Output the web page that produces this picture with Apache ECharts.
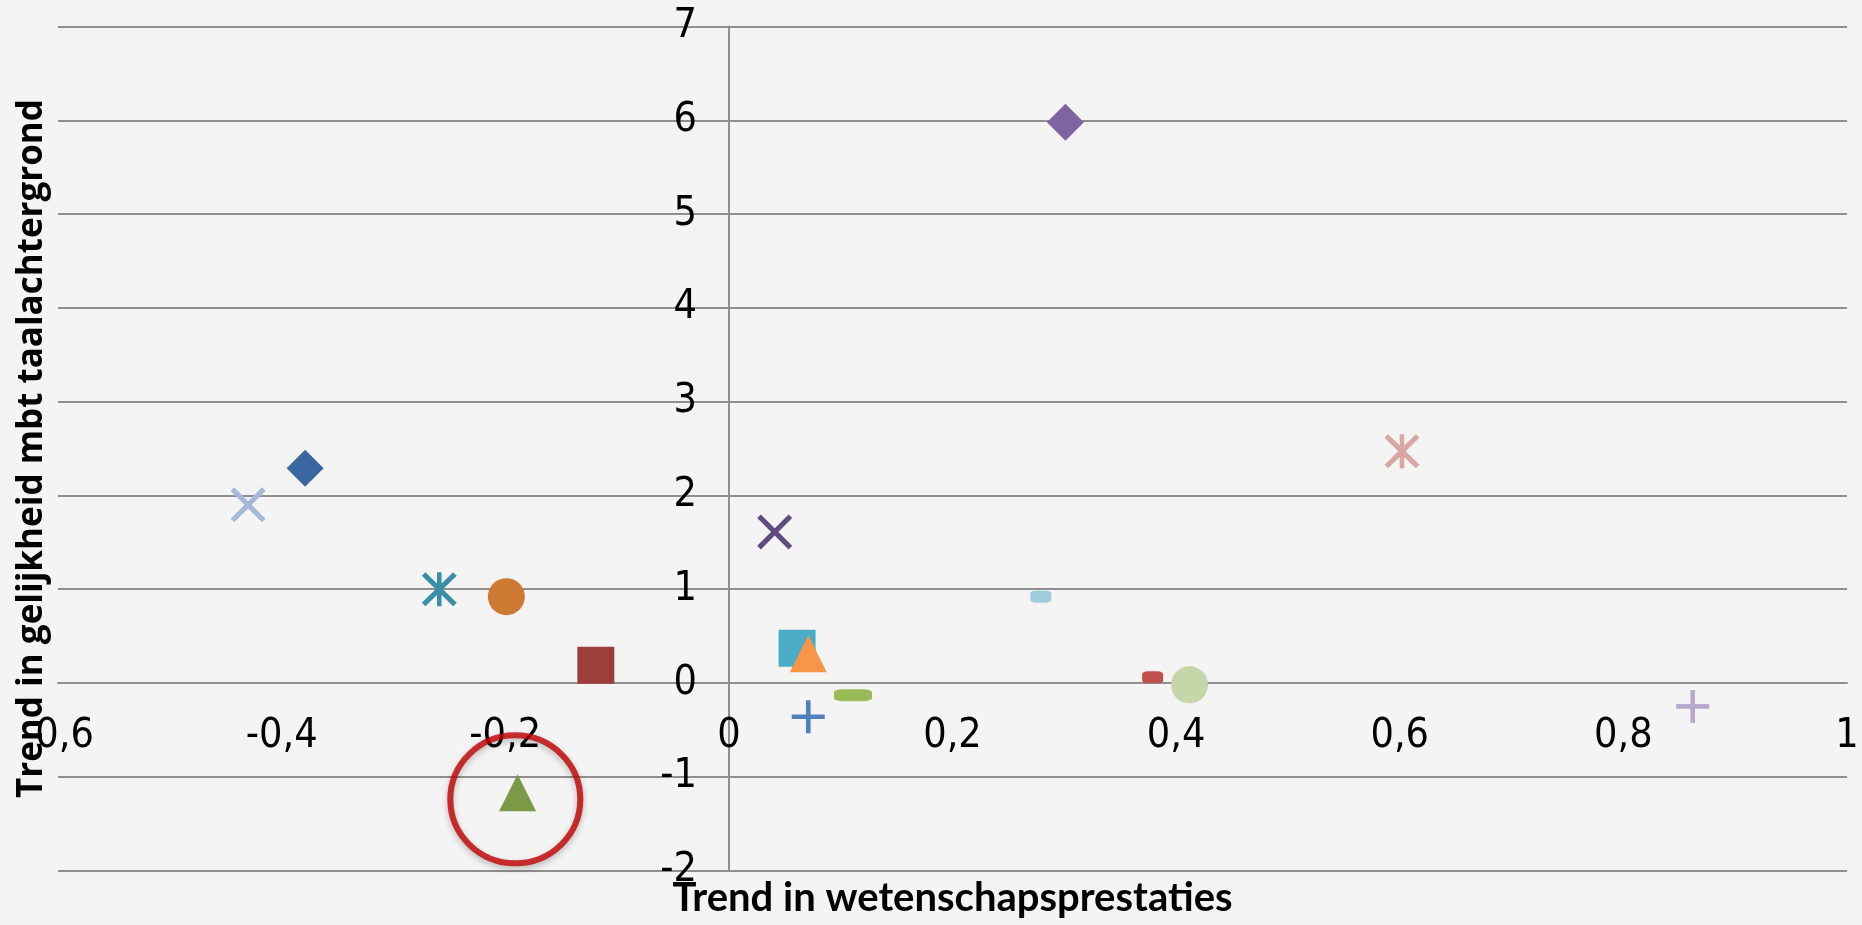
<!DOCTYPE html>
<html>
<head>
<meta charset="utf-8">
<title>Trend in gelijkheid</title>
<script src="https://cdn.jsdelivr.net/npm/echarts@6/dist/echarts.min.js"></script>
<style>
  html, body { margin: 0; padding: 0; background: #f4f4f4; }
  #chart { width: 1862px; height: 925px; }
</style>
</head>
<body>
<div id="chart"></div>
<script>
// trend in science performance (x) vs trend in equity by language background (y)
var trendScience = [-0.379, -0.430, -0.259, -0.199, -0.119, -0.189, 0.301, 0.041, 0.061, 0.071, 0.111, 0.071, 0.279, 0.379, 0.412, 0.602, 0.862];
var trendEquity  = [ 2.29,   1.90,   1.00,   0.92,   0.19,  -1.17,  5.98,  1.61,  0.37,  0.31, -0.13, -0.36,  0.92,  0.06, -0.02,  2.47, -0.25];

// the circled point
var circledX = [-0.191];
var circledY = [-1.241];

// axis ranges
var xRange = [-0.6, 1];
var yRange = [-2, 7];

var PATH_X = 'path://M10.4,0L100,89.6L89.6,100L0,10.4Z M89.6,0L100,10.4L10.4,100L0,89.6Z';
var PATH_STAR = 'path://M10.4,0L100,89.6L89.6,100L0,10.4Z M89.6,0L100,10.4L10.4,100L0,89.6Z M43.5,0L56.5,0L56.5,100L43.5,100Z';
var PATH_PLUS = 'path://M43,0L57,0L57,43L100,43L100,57L57,57L57,100L43,100L43,57L0,57L0,43L43,43Z';

// marker style per country
var markers = [
  { symbol: 'diamond',   color: '#3b67a0', size: [37, 37] },
  { symbol: PATH_X,      color: '#a7b9d8', size: [35, 35] },
  { symbol: PATH_STAR,   color: '#3a8fa8', size: [35, 34] },
  { symbol: 'circle',    color: '#ce7a35', size: [37, 37] },
  { symbol: 'rect',      color: '#9c3e3c', size: [37, 37] },
  { symbol: 'triangle',  color: '#7a9a48', size: [37, 37] },
  { symbol: 'diamond',   color: '#8064a2', size: [37, 37] },
  { symbol: PATH_X,      color: '#604b82', size: [35, 35] },
  { symbol: 'rect',      color: '#4aacc6', size: [37, 37] },
  { symbol: 'triangle',  color: '#f79646', size: [37, 37] },
  { symbol: 'roundRect', color: '#9bbb59', size: [38, 12] },
  { symbol: PATH_PLUS,   color: '#4f81bd', size: [33, 33] },
  { symbol: 'roundRect', color: '#a0cbdb', size: [21, 12] },
  { symbol: 'roundRect', color: '#c0504d', size: [21, 12] },
  { symbol: 'circle',    color: '#c5d6a8', size: [37, 37] },
  { symbol: PATH_STAR,   color: '#d9a6a4', size: [35, 34] },
  { symbol: PATH_PLUS,   color: '#b7a9cc', size: [33, 33] }
];

var labelFont = "'Liberation Sans Narrow', 'DejaVu Sans Condensed', Roboto, sans-serif";

var series = trendScience.map(function (x, i) {
  var m = markers[i];
  return {
    type: 'scatter',
    symbol: m.symbol,
    symbolSize: m.size,
    itemStyle: { color: m.color, opacity: 1 },
    data: [[x, trendEquity[i]]],
    z: 3
  };
});

series.push({
  type: 'scatter',
  symbol: 'circle',
  symbolSize: [130, 128],
  silent: true,
  itemStyle: {
    color: 'rgba(0,0,0,0)',
    borderColor: '#c00000',
    borderWidth: 6,
    shadowBlur: 6,
    shadowOffsetY: 3,
    shadowColor: 'rgba(0,0,0,0.3)'
  },
  data: circledX.map(function (x, i) { return [x, circledY[i]]; }),
  z: 4
});

var chart = echarts.init(document.getElementById('chart'));
chart.setOption({
  animation: false,
  backgroundColor: '#f4f4f4',
  grid: {
    left: 58, right: 15, top: 26.5, bottom: 54.5,
    containLabel: false,
    outerBoundsMode: 'none'
  },
  xAxis: {
    type: 'value',
    min: xRange[0], max: xRange[1], interval: 0.2,
    position: 'bottom',
    offset: -187.5, // sits on y = 0
    name: 'Trend in wetenschapsprestaties',
    nameLocation: 'middle',
    nameGap: 215,
    nameTextStyle: {
      fontFamily: 'Lato, sans-serif', fontWeight: 'bold', fontSize: 40,
      color: '#000', verticalAlign: 'middle'
    },
    axisLine: { onZero: false, lineStyle: { color: '#8f8f8f', width: 2 } },
    axisTick: { show: false },
    splitLine: { show: false },
    axisLabel: {
      margin: 33,
      fontFamily: labelFont, fontSize: 41, color: '#000',
      formatter: function (v) { return String(Math.round(v * 10) / 10).replace('.', ','); }
    }
  },
  yAxis: {
    type: 'value',
    min: yRange[0], max: yRange[1], interval: 1,
    position: 'left',
    offset: -671, // sits on x = 0
    name: 'Trend in gelijkheid mbt taalachtergrond',
    nameLocation: 'middle',
    nameRotate: 90,
    nameGap: 697,
    nameTextStyle: {
      fontFamily: "'Open Sans', sans-serif", fontWeight: 'bold', fontSize: 35,
      color: '#000', verticalAlign: 'middle'
    },
    axisLine: { show: true, onZero: false, lineStyle: { color: '#8f8f8f', width: 2 } },
    axisTick: { show: false },
    splitLine: { show: true, lineStyle: { color: '#8f8f8f', width: 2 } },
    axisLabel: {
      margin: 32,
      fontFamily: labelFont, fontSize: 41, color: '#000'
    }
  },
  series: series
});
</script>
</body>
</html>
